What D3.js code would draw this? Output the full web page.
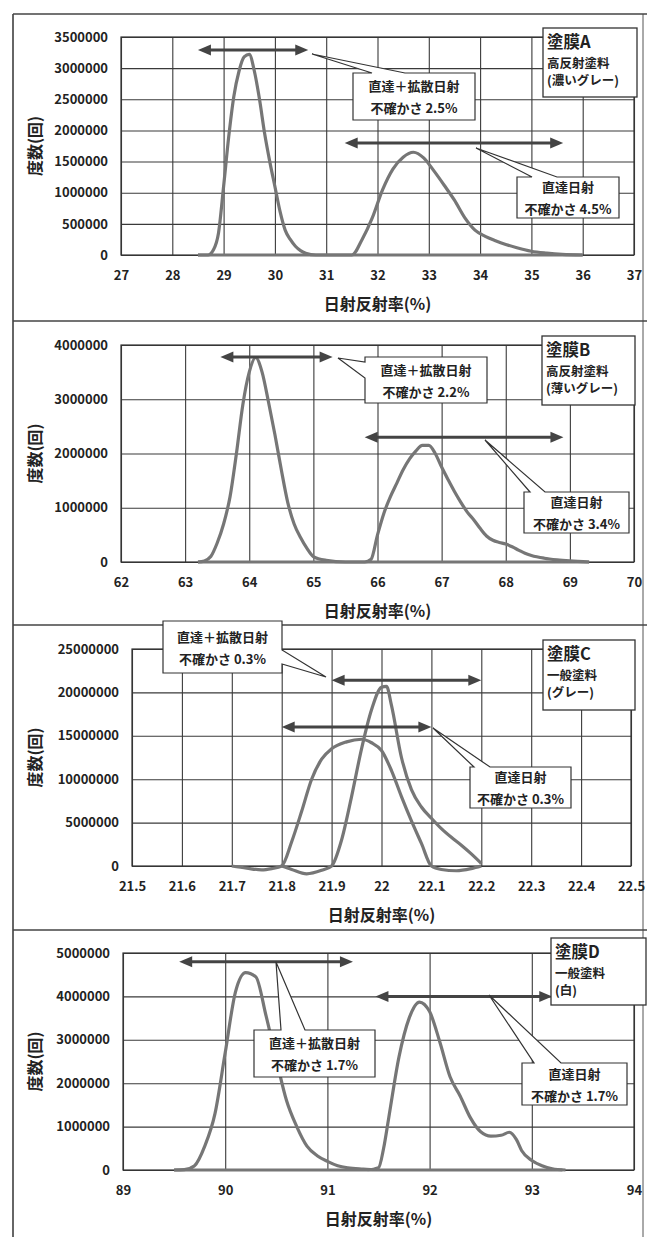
<!DOCTYPE html>
<html>
<head>
<meta charset="utf-8">
<script src="https://cdn.jsdelivr.net/npm/d3@7"></script>
<style>
  body { margin: 0; background: #fff; }
  svg { display: block; font-family: "Noto Sans CJK JP", "Noto Sans", sans-serif; font-weight: bold; }
</style>
</head>
<body>
<div id="chart"></div>
<script>
// ---- data ----
const xTicksA = [27, 28, 29, 30, 31, 32, 33, 34, 35, 36, 37];
const yTicksA = [0, 500000, 1000000, 1500000, 2000000, 2500000, 3000000, 3500000];
const totalA = [[28.5,0],[28.7,0],[28.8,80000],[28.9,350000],[29.0,1100000],[29.1,1900000],[29.2,2550000],[29.3,2950000],[29.4,3180000],[29.5,3220000],[29.6,2950000],[29.7,2500000],[29.8,1950000],[29.9,1500000],[30.0,1100000],[30.1,700000],[30.2,400000],[30.3,250000],[30.4,140000],[30.5,70000],[30.6,30000],[30.8,0],[31,0],[32,0],[33,0],[34,0],[35,0],[36,0]];
const directA = [[28.5,0],[30,0],[31,0],[31.5,0],[31.7,250000],[31.9,600000],[32.1,1050000],[32.3,1380000],[32.5,1570000],[32.7,1650000],[32.9,1560000],[33.1,1350000],[33.3,1120000],[33.5,880000],[33.7,600000],[33.9,400000],[34.1,300000],[34.3,230000],[34.5,170000],[34.7,120000],[35.0,60000],[35.3,30000],[35.6,10000],[36,0]];
const arrowsA = [[28.5, 30.65, 3290000], [31.36, 35.62, 1800000]];
const labelA = ['塗膜A', '高反射塗料', '(濃いグレー)'];
const notesA = [['直達＋拡散日射', '不確かさ 2.5%'], ['直達日射', '不確かさ 4.5%']];

const xTicksB = [62, 63, 64, 65, 66, 67, 68, 69, 70];
const yTicksB = [0, 1000000, 2000000, 3000000, 4000000];
const totalB = [[63.2,0],[63.3,20000],[63.4,100000],[63.5,350000],[63.6,700000],[63.7,1200000],[63.8,2000000],[63.9,2900000],[64.0,3500000],[64.1,3770000],[64.2,3500000],[64.3,2950000],[64.4,2350000],[64.5,1700000],[64.6,1100000],[64.7,700000],[64.8,450000],[64.9,250000],[65.0,100000],[65.2,30000],[65.5,0],[66,0],[67,0],[68,0],[69,0],[69.3,0]];
const directB = [[63.2,0],[65,0],[65.8,0],[65.9,50000],[66.0,500000],[66.1,900000],[66.2,1200000],[66.3,1450000],[66.4,1700000],[66.5,1900000],[66.6,2050000],[66.7,2150000],[66.8,2150000],[66.9,2000000],[67.0,1750000],[67.1,1520000],[67.2,1300000],[67.3,1100000],[67.4,920000],[67.5,780000],[67.6,620000],[67.7,480000],[67.8,400000],[67.9,360000],[68.0,330000],[68.1,280000],[68.2,220000],[68.3,160000],[68.4,120000],[68.6,70000],[68.8,40000],[69.0,20000],[69.3,0]];
const arrowsB = [[63.55, 65.3, 3780000], [65.8, 68.9, 2300000]];
const labelB = ['塗膜B', '高反射塗料', '(薄いグレー)'];
const notesB = [['直達＋拡散日射', '不確かさ 2.2%'], ['直達日射', '不確かさ 3.4%']];

const xTicksC = [21.5, 21.6, 21.7, 21.8, 21.9, 22, 22.1, 22.2, 22.3, 22.4, 22.5];
const yTicksC = [0, 5000000, 10000000, 15000000, 20000000, 25000000];
const totalC = [[21.8,0],[21.82,-400000],[21.85,-900000],[21.88,-500000],[21.9,0],[21.92,3000000],[21.94,8000000],[21.96,13500000],[21.98,18000000],[22.0,20600000],[22.01,20700000],[22.02,18500000],[22.04,12500000],[22.06,8800000],[22.08,6800000],[22.1,5500000],[22.12,4300000],[22.14,3300000],[22.16,2400000],[22.18,1400000],[22.2,300000]];
const directC = [[21.7,0],[21.73,-250000],[21.76,-450000],[21.78,-300000],[21.8,0],[21.82,2800000],[21.84,6300000],[21.86,10000000],[21.88,12300000],[21.9,13500000],[21.93,14300000],[21.96,14600000],[21.98,14200000],[22.0,13300000],[22.02,11000000],[22.04,8000000],[22.06,5200000],[22.08,2600000],[22.1,0],[22.12,-400000],[22.15,-550000],[22.18,-300000],[22.2,0]];
const arrowsC = [[21.9, 22.2, 21400000], [21.8, 22.1, 16000000]];
const labelC = ['塗膜C', '一般塗料', '(グレー)'];
const notesC = [['直達＋拡散日射', '不確かさ 0.3%'], ['直達日射', '不確かさ 0.3%']];

const xTicksD = [89, 90, 91, 92, 93, 94];
const yTicksD = [0, 1000000, 2000000, 3000000, 4000000, 5000000];
const totalD = [[89.5,0],[89.6,10000],[89.7,100000],[89.8,550000],[89.9,1300000],[90.0,2700000],[90.1,4100000],[90.2,4550000],[90.3,4450000],[90.4,3550000],[90.5,2550000],[90.6,1600000],[90.7,1000000],[90.8,550000],[90.9,330000],[91.0,200000],[91.1,100000],[91.2,50000],[91.35,20000],[91.5,0],[92,0],[93,0],[93.3,0]];
const directD = [[89.5,0],[91,0],[91.4,0],[91.5,50000],[91.55,500000],[91.6,1200000],[91.7,2600000],[91.8,3500000],[91.9,3870000],[92.0,3650000],[92.1,2950000],[92.2,2150000],[92.3,1700000],[92.4,1200000],[92.5,880000],[92.6,780000],[92.7,800000],[92.78,870000],[92.85,700000],[92.9,450000],[93.0,220000],[93.1,100000],[93.2,30000],[93.33,0]];
const arrowsD = [[89.55, 91.25, 4800000], [91.47, 93.2, 4000000]];
const labelD = ['塗膜D', '一般塗料', '(白)'];
const notesD = [['直達＋拡散日射', '不確かさ 1.7%'], ['直達日射', '不確かさ 1.7%']];

const xTitle = '日射反射率(%)';
const yTitle = '度数(回)';

// ---- layout ----
const W = 647, H = 1237;
const panels = [
  { frame: 14, left: 121, right: 634, top: 37, bottom: 255, xTicks: xTicksA, yTicks: yTicksA,
    series: [totalA, directA], arrows: arrowsA, label: labelA, notes: notesA,
    labelBox: { x: 543, y: 28, w: 94, h: 69 },
    noteBoxes: [
      { x: 353, y: 73, w: 122, h: 47, tip: [312, 54], side: 'top', base: [372, 405] },
      { x: 517, y: 177, w: 102, h: 41, tip: [476, 148], side: 'top', base: [532, 557] }] },
  { frame: 321, left: 121, right: 634, top: 345, bottom: 562, xTicks: xTicksB, yTicks: yTicksB,
    series: [totalB, directB], arrows: arrowsB, label: labelB, notes: notesB,
    labelBox: { x: 542, y: 336, w: 93, h: 69 },
    noteBoxes: [
      { x: 365, y: 357, w: 122, h: 46, tip: [338, 358], side: 'left', base: [362, 378] },
      { x: 524, y: 492, w: 105, h: 41, tip: [485, 440], side: 'top', base: [530, 545] }] },
  { frame: 625, left: 132, right: 631, top: 649, bottom: 866, xTicks: xTicksC, yTicks: yTicksC,
    series: [totalC, directC], arrows: arrowsC, label: labelC, notes: notesC,
    labelBox: { x: 543, y: 640, w: 92, h: 70 },
    noteBoxes: [
      { x: 163, y: 621, w: 119, h: 52, tip: [326, 677], side: 'right', base: [650, 664] },
      { x: 470, y: 767, w: 101, h: 41, tip: [433, 728], side: 'top', base: [474, 490] }] },
  { frame: 930, left: 123, right: 634, top: 953, bottom: 1170, xTicks: xTicksD, yTicks: yTicksD,
    series: [totalD, directD], arrows: arrowsD, label: labelD, notes: notesD,
    labelBox: { x: 551, y: 938, w: 95, h: 67 },
    noteBoxes: [
      { x: 254, y: 1030, w: 121, h: 47, tip: [276, 962], side: 'top', base: [281, 305] },
      { x: 522, y: 1063, w: 105, h: 42, tip: [489, 995], side: 'top', base: [534, 561] }] }
];

const svg = d3.select('#chart').append('svg')
  .attr('width', W).attr('height', H);

// outer frame
svg.append('line').attr('x1', 13).attr('x2', 13).attr('y1', 14).attr('y2', H)
  .attr('stroke', '#333').attr('stroke-width', 1.5);
svg.append('line').attr('x1', 643).attr('x2', 643).attr('y1', 14).attr('y2', H)
  .attr('stroke', '#555').attr('stroke-width', 1);
panels.forEach(p => {
  svg.append('line').attr('x1', 13).attr('x2', W).attr('y1', p.frame).attr('y2', p.frame)
    .attr('stroke', '#444').attr('stroke-width', 1.5);
});

function calloutPath(b) {
  const [tx, ty] = b.tip, [a1, a2] = b.base;
  const x0 = b.x, y0 = b.y, x1 = b.x + b.w, y1 = b.y + b.h;
  let d = `M${x0},${y0}`;
  if (b.side === 'top') d += `L${a1},${y0}L${tx},${ty}L${a2},${y0}`;
  d += `L${x1},${y0}`;
  if (b.side === 'right') d += `L${x1},${a1}L${tx},${ty}L${x1},${a2}`;
  d += `L${x1},${y1}L${x0},${y1}`;
  if (b.side === 'left') d += `L${x0},${a2}L${tx},${ty}L${x0},${a1}`;
  return d + 'Z';
}

function drawPanel(p) {
  const x = d3.scaleLinear()
    .domain([p.xTicks[0], p.xTicks[p.xTicks.length - 1]])
    .range([p.left, p.right]);
  const y = d3.scaleLinear()
    .domain([0, d3.max(p.yTicks)])
    .range([p.bottom, p.top]);
  const g = svg.append('g');

  // grid
  const gx = g.append('g').attr('transform', `translate(0,${p.bottom})`)
    .call(d3.axisBottom(x).tickValues(p.xTicks).tickSize(-(p.bottom - p.top)).tickFormat(''));
  const gy = g.append('g').attr('transform', `translate(${p.left},0)`)
    .call(d3.axisLeft(y).tickValues(p.yTicks).tickSize(-(p.right - p.left)).tickFormat(''));
  [gx, gy].forEach(a => {
    a.select('.domain').remove();
    a.selectAll('line').attr('stroke', '#3a3a3a').attr('stroke-width', 1.1);
  });
  g.append('rect').attr('x', p.left).attr('y', p.top)
    .attr('width', p.right - p.left).attr('height', p.bottom - p.top)
    .attr('fill', 'none').attr('stroke', '#333').attr('stroke-width', 1.2);

  // tick labels
  const lx = g.append('g').attr('transform', `translate(0,${p.bottom})`)
    .call(d3.axisBottom(x).tickValues(p.xTicks).tickSize(0).tickPadding(16).tickFormat(d => d));
  const ly = g.append('g').attr('transform', `translate(${p.left},0)`)
    .call(d3.axisLeft(y).tickValues(p.yTicks).tickSize(0).tickPadding(13).tickFormat(d3.format('d')));
  [lx, ly].forEach(a => {
    a.attr('font-family', null).attr('font-size', 13);
    a.select('.domain').remove();
    a.selectAll('text').attr('fill', '#222').attr('font-weight', 'bold');
  });

  // axis titles
  g.append('text').attr('x', (p.left + p.right) / 2).attr('y', p.bottom + 48)
    .attr('text-anchor', 'middle').attr('dominant-baseline', 'central')
    .attr('font-size', 16).attr('fill', '#222').text(xTitle);
  g.append('text')
    .attr('transform', `translate(34,${(p.top + p.bottom) / 2}) rotate(-90)`)
    .attr('text-anchor', 'middle').attr('dominant-baseline', 'central')
    .attr('font-size', 16).attr('fill', '#222').text(yTitle);

  // curves
  const line = d3.line().x(d => x(d[0])).y(d => y(d[1])).curve(d3.curveMonotoneX);
  p.series.forEach(s => {
    g.append('path').datum(s).attr('d', line)
      .attr('fill', 'none').attr('stroke', '#767676').attr('stroke-width', 3.2)
      .attr('stroke-linejoin', 'round');
  });

  // arrows
  p.arrows.forEach(a => {
    const x1 = x(a[0]), x2 = x(a[1]), yy = y(a[2]);
    g.append('line').attr('x1', x1 + 8).attr('x2', x2 - 8).attr('y1', yy).attr('y2', yy)
      .attr('stroke', '#444').attr('stroke-width', 3);
    g.append('path').attr('d', `M${x1},${yy}L${x1 + 13},${yy - 5.5}L${x1 + 13},${yy + 5.5}Z`).attr('fill', '#444');
    g.append('path').attr('d', `M${x2},${yy}L${x2 - 13},${yy - 5.5}L${x2 - 13},${yy + 5.5}Z`).attr('fill', '#444');
  });

  // callout notes
  p.noteBoxes.forEach((b, i) => {
    g.append('path').attr('d', calloutPath(b))
      .attr('fill', '#fff').attr('stroke', '#333').attr('stroke-width', 1.2);
    const cx = b.x + b.w / 2, cy = b.y + b.h / 2;
    p.notes[i].forEach((t, j) => {
      g.append('text').attr('x', cx).attr('y', cy + (j === 0 ? -11 : 11))
        .attr('text-anchor', 'middle').attr('dominant-baseline', 'central')
        .attr('font-size', 13).attr('fill', '#222').text(t);
    });
  });

  // coating label box
  const lb = p.labelBox;
  g.append('rect').attr('x', lb.x).attr('y', lb.y).attr('width', lb.w).attr('height', lb.h)
    .attr('fill', '#fff').attr('stroke', '#333').attr('stroke-width', 1.3);
  p.label.forEach((t, j) => {
    g.append('text').attr('x', lb.x + 4).attr('y', lb.y + [20, 40, 57][j])
      .attr('font-size', j === 0 ? 16.5 : 12.5).attr('fill', '#222').text(t);
  });
}

panels.forEach(drawPanel);
</script>
</body>
</html>
